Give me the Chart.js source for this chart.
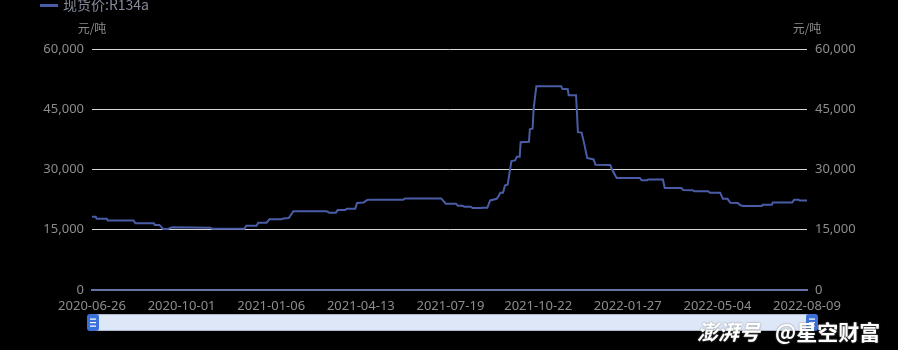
<!DOCTYPE html>
<html>
<head>
<meta charset="utf-8">
<script src="https://cdn.jsdelivr.net/npm/chart.js@4/dist/chart.umd.min.js"></script>
<style>
  body { margin: 0; background: #000; }
  #wrap { width: 898px; height: 350px; position: relative; }
</style>
</head>
<body>
<div id="wrap"><canvas id="priceChart"></canvas></div>
<script>
// spot price of R134a, days counted from 2020-06-26
const startDate = "2020-06-26";
const dayOffsets = [
  0, 4, 5, 16, 17, 45, 47, 67, 68, 73, 77, 82, 87, 128, 130, 165, 167, 178, 180, 189,
  192, 205, 207, 213, 218, 254, 257, 264, 266, 274, 276, 285, 287, 294, 298, 301, 337, 339, 378, 383,
  394, 396, 401, 403, 410, 412, 421, 423, 428, 431, 438, 440, 442, 445, 447, 450, 454, 458, 460, 463,
  464, 473, 474, 477, 478, 481, 508, 509, 515, 516, 524, 526, 530, 533, 536, 543, 545, 561, 564, 565,
  568, 593, 595, 601, 602, 618, 620, 638, 640, 650, 652, 667, 669, 680, 683, 688, 691, 699, 702, 705,
  725, 726, 736, 737, 758, 760, 765, 766, 774,
];
const prices = [
  18250, 18250, 17750, 17750, 17300, 17300, 16600, 16600, 16200, 16200, 15200, 15200, 15600, 15500, 15250, 15250, 16000, 16000, 16750, 16750,
  17600, 17600, 17800, 17900, 19600, 19600, 19250, 19250, 19900, 19900, 20250, 20250, 21650, 21800, 22400, 22500, 22500, 22800, 22800, 21500,
  21500, 21000, 21000, 20750, 20750, 20400, 20400, 20500, 20500, 22300, 22700, 23300, 24200, 24200, 26000, 26250, 32100, 32250, 33200, 33200,
  36800, 36900, 40000, 40200, 45000, 50700, 50750, 50100, 50000, 48500, 48500, 39300, 39200, 36250, 32900, 32500, 31200, 31100, 29500, 29100,
  27900, 27900, 27300, 27300, 27500, 27500, 25400, 25400, 24900, 24850, 24600, 24600, 24200, 24200, 22700, 22700, 21700, 21650, 21100, 20900,
  20900, 21250, 21250, 21800, 21800, 22500, 22500, 22300, 22300,
];
const tickDates = [
  "2020-06-26", "2020-10-01", "2021-01-06", "2021-04-13", "2021-07-19",
  "2021-10-22", "2022-01-27", "2022-05-04", "2022-08-09",
];
const yTicks = [0, 15000, 30000, 45000, 60000];
const seriesName = "现货价:R134a";
const unitName = "元/吨";

const lineColor = "#4a5ca6";
const labelColor = "#8c8c8c";

function dayOf(d) {
  return (Date.parse(d) - Date.parse(startDate)) / 86400000;
}
const tickDays = tickDates.map(dayOf);

Chart.defaults.font.family = '"Noto Sans", "Noto Sans CJK SC", sans-serif';
Chart.defaults.font.size = 13;

function yAxis(position, width, showGrid) {
  return {
    type: "linear",
    position: position,
    min: 0,
    max: 60000,
    afterBuildTicks: (axis) => {
      axis.ticks = yTicks.map((v) => ({ value: v }));
    },
    afterFit: (axis) => {
      axis.width = width;
    },
    ticks: {
      color: labelColor,
      padding: 8,
      callback: (v) => v.toLocaleString("en-US"),
    },
    grid: {
      display: showGrid,
      drawTicks: false,
      lineWidth: 1,
      color: (c) => (c.tick && c.tick.value === 0 ? "rgba(0,0,0,0)" : "#d6d6d6"),
    },
    border: { display: false },
  };
}

const overlay = {
  id: "overlay",
  afterDraw(chart) {
    const ctx = chart.ctx;
    const area = chart.chartArea;
    ctx.save();

    // legend
    ctx.fillStyle = lineColor;
    ctx.fillRect(40, 4, 18, 3);
    ctx.fillStyle = "#858a9c";
    ctx.font = '14px "Noto Sans CJK SC", "Noto Sans", sans-serif';
    ctx.textAlign = "left";
    ctx.textBaseline = "middle";
    ctx.fillText(seriesName, 63, 5);

    // axis names
    ctx.fillStyle = labelColor;
    ctx.font = '12px "Noto Sans CJK SC", sans-serif';
    ctx.textAlign = "center";
    ctx.fillText(unitName, area.left, 28);
    ctx.fillText(unitName, area.right, 28);

    // zoom slider
    const barL = 93, barR = 812, barT = 314, barB = 331;
    ctx.fillStyle = "#dde7f8";
    ctx.fillRect(barL, barT, barR - barL, barB - barT);
    ctx.strokeStyle = "#aeb8cc";
    ctx.lineWidth = 1;
    ctx.strokeRect(barL + 0.5, barT + 0.5, barR - barL - 1, barB - barT - 1);
    [barL, barR].forEach((cx) => {
      ctx.fillStyle = "#3a70d8";
      ctx.beginPath();
      ctx.roundRect(cx - 6, barT, 12, barB - barT, 3);
      ctx.fill();
      ctx.fillStyle = "#ffffff";
      for (let k = -1; k <= 1; k++) {
        ctx.fillRect(cx - 3, (barT + barB) / 2 + k * 3.5 - 0.5, 6, 1.2);
      }
    });

    // watermark
    ctx.textAlign = "left";
    ctx.textBaseline = "alphabetic";
    ctx.shadowColor = "rgba(120,120,120,0.9)";
    ctx.shadowBlur = 2;
    ctx.fillStyle = "#ffffff";
    ctx.font = 'italic bold 21px "Noto Sans CJK SC", sans-serif';
    ctx.fillText("澎湃号", 697, 340);
    ctx.font = 'bold 21px "Noto Sans CJK SC", sans-serif';
    ctx.fillText("@星空财富", 775, 340);
    ctx.restore();
  },
};

new Chart(document.getElementById("priceChart"), {
  type: "line",
  data: {
    datasets: [
      {
        label: seriesName,
        data: dayOffsets.map((d, i) => ({ x: d, y: prices[i] })),
        borderColor: lineColor,
        borderWidth: 2,
        pointRadius: 0,
        tension: 0,
        fill: false,
      },
    ],
  },
  options: {
    responsive: true,
    maintainAspectRatio: false,
    animation: false,
    layout: { padding: { top: 49, left: 0, right: 0, bottom: 0 } },
    plugins: {
      legend: { display: false },
      tooltip: { enabled: false },
    },
    scales: {
      x: {
        type: "linear",
        min: 0,
        max: tickDays[tickDays.length - 1],
        afterBuildTicks: (axis) => {
          axis.ticks = tickDays.map((v) => ({ value: v }));
        },
        afterFit: (axis) => {
          axis.height = 60;
        },
        ticks: {
          color: labelColor,
          padding: 8,
          autoSkip: false,
          maxRotation: 0,
          callback: (v) => tickDates[tickDays.indexOf(v)],
        },
        grid: { display: false, drawTicks: false },
        border: { display: true, color: "#6574a8", width: 2 },
      },
      y: yAxis("left", 92, true),
      y2: yAxis("right", 91, false),
    },
  },
  plugins: [overlay],
});
</script>
</body>
</html>
